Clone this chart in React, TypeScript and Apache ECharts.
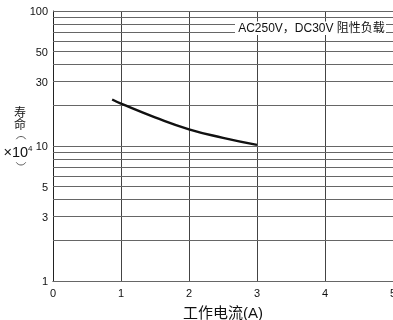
import React, { useEffect, useRef } from "react";
import * as echarts from "echarts";

const currentA = [0.87, 1.0, 1.5, 2.0, 2.5, 3.0];
const lifeE4 = [22.1, 20.6, 16.3, 13.3, 11.5, 10.2];
const gridValues = [1, 2, 3, 4, 5, 6, 7, 8, 9, 10, 20, 30, 40, 50, 60, 70, 80, 90, 100];
const yTickLabels = [1, 3, 5, 10, 30, 50, 100];
const xTicks = [0, 1, 2, 3, 4, 5];
const legendText = "AC250V，DC30V 阻性负载";
const xName = "工作电流(A)";
const yNameChars = ["寿", "命"];

const NUM_FONT = "'Liberation Sans', Arial, sans-serif";
const CJK_FONT = "'Liberation Sans', 'Noto Sans CJK SC', sans-serif";

export default function App() {
  const ref = useRef<HTMLDivElement>(null);
  useEffect(() => {
    if (!ref.current) return;
    const chart = echarts.init(ref.current, undefined, { renderer: "svg", width: 393, height: 320 });
    const option: any = {
      animation: false,
      grid: { left: 53, right: 0, top: 11, bottom: 39, containLabel: false, outerBoundsMode: "none" },
      xAxis: {
        type: "value",
        min: xTicks[0],
        max: xTicks[xTicks.length - 1],
        interval: 1,
        axisLine: { show: true, lineStyle: { color: "#222", width: 1 } },
        axisTick: { show: false },
        axisLabel: { color: "#111", fontSize: 11, fontFamily: NUM_FONT, margin: 6 },
        splitLine: { show: true, lineStyle: { color: "#444", width: 1 } },
        name: xName,
        nameLocation: "middle",
        nameGap: 24,
        nameTextStyle: { color: "#111", fontSize: 15, fontFamily: CJK_FONT },
      },
      yAxis: {
        type: "log",
        logBase: 10,
        min: 1,
        max: 100,
        axisLine: { show: true, lineStyle: { color: "#222", width: 1 } },
        axisTick: { show: false },
        axisLabel: { show: false },
        splitLine: { show: false },
      },
      series: [
        {
          type: "line",
          data: [],
          silent: true,
          markLine: {
            silent: true,
            symbol: "none",
            animation: false,
            lineStyle: { color: "#666", width: 1, type: "solid" },
            label: {
              show: true,
              position: "start",
              distance: 5,
              color: "#111",
              fontSize: 11,
              fontFamily: NUM_FONT,
              formatter: (p: any) => (yTickLabels.indexOf(p.value) >= 0 ? String(p.value) : ""),
            },
            emphasis: { disabled: true },
            data: gridValues.map((v) => ({ yAxis: v })),
          },
        },
        {
          type: "line",
          smooth: 0.5,
          symbol: "none",
          lineStyle: { color: "#111", width: 2.4 },
          data: currentA.map((x, i) => [x, lifeE4[i]]),
          z: 5,
        },
      ],
      graphic: [
        { type: "rect", shape: { x: 235, y: 21.5, width: 151, height: 13.5 }, style: { fill: "#fff" }, z: 10 },
        {
          type: "text",
          x: 311.5,
          y: 28,
          z: 11,
          style: { text: legendText, fill: "#111", fontSize: 12, fontFamily: CJK_FONT, align: "center", verticalAlign: "middle" },
        },
        {
          type: "text",
          x: 20,
          y: 117.5,
          style: {
            text: yNameChars.join("\n"),
            fill: "#111",
            fontSize: 12,
            lineHeight: 12,
            fontFamily: "'Noto Sans CJK SC', sans-serif",
            align: "center",
            verticalAlign: "middle",
          },
        },
        {
          type: "arc",
          shape: { cx: 21, cy: 142, r: 5.5, startAngle: Math.PI * 1.17, endAngle: Math.PI * 1.83, clockwise: true },
          style: { stroke: "#333", lineWidth: 0.8, fill: null },
        },
        {
          type: "arc",
          shape: { cx: 21, cy: 159.5, r: 5.5, startAngle: Math.PI * 0.17, endAngle: Math.PI * 0.83, clockwise: true },
          style: { stroke: "#333", lineWidth: 0.8, fill: null },
        },
        {
          type: "text",
          x: 18,
          y: 151.5,
          style: {
            text: "{a|×10}{b|4}",
            align: "center",
            verticalAlign: "middle",
            rich: {
              a: { fontSize: 14.5, fill: "#111", fontFamily: NUM_FONT, verticalAlign: "bottom" },
              b: { fontSize: 8, fill: "#111", fontFamily: NUM_FONT, verticalAlign: "top", padding: [0, 0, 7, 0] },
            },
          },
        },
      ],
    };
    chart.setOption(option);
    return () => chart.dispose();
  }, []);
  return <div ref={ref} style={{ position: "fixed", left: 0, top: 0, width: 393, height: 320 }} />;
}
